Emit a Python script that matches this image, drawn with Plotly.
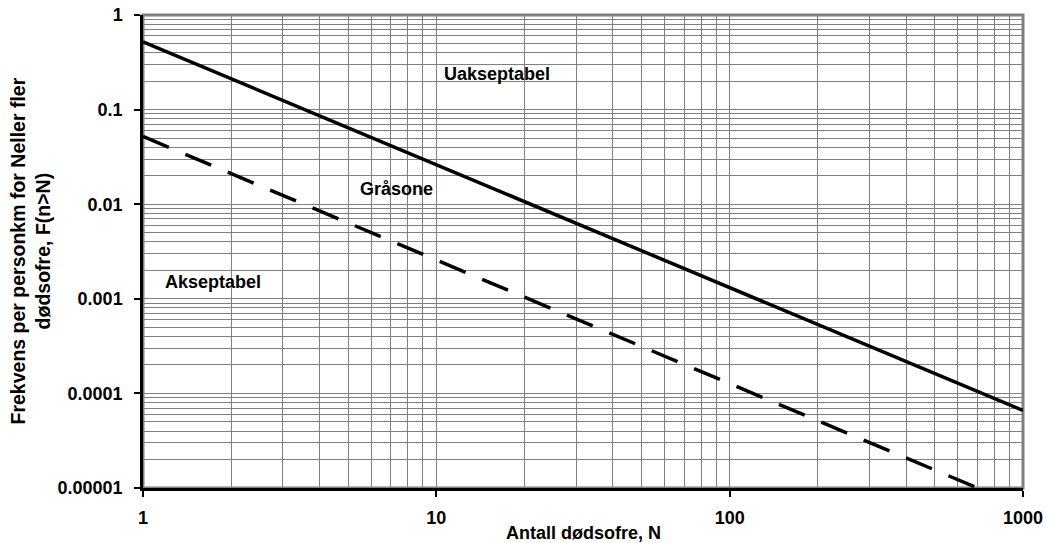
import math
import plotly.graph_objects as go

# ---- data ----
solid_x = [1, 1000]
solid_y = [0.52, 0.000066]
dashed_x = [1, 700]
dashed_y = [0.052, 0.00001]

x_tickvals = [1, 10, 100, 1000]
x_ticktext = ["1", "10", "100", "1000"]
y_tickvals = [1, 0.1, 0.01, 0.001, 0.0001, 0.00001]
y_ticktext = ["1", "0.1", "0.01", "0.001", "0.0001", "0.00001"]

region_labels = ["Uakseptabel", "Gråsone", "Akseptabel"]
region_x = [16.1, 7.3, 1.73]
region_y = [0.24, 0.0144, 0.0015]

x_title = "Antall dødsofre, N"
y_title = "Frekvens per personkm for Neller fler<br>dødsofre, F(n>N)"

# minor grid positions (2..9 in each decade)
x_minor = [m * 10 ** d for d in range(0, 3) for m in range(2, 10)]
y_minor = [m * 10 ** d for d in range(-5, 0) for m in range(2, 10)]

FONT = "Liberation Sans, Arial, sans-serif"
GRID = "#7f7f7f"

fig = go.Figure()
fig.add_trace(go.Scatter(x=solid_x, y=solid_y, mode="lines",
                         line=dict(color="black", width=3.5), showlegend=False))
fig.add_trace(go.Scatter(x=dashed_x, y=dashed_y, mode="lines",
                         line=dict(color="black", width=3.5, dash="28px,18px"),
                         showlegend=False))

# annotations on log axes take log10 coordinates
for t, xv, yv in zip(region_labels, region_x, region_y):
    fig.add_annotation(x=math.log10(xv), y=math.log10(yv), xref="x", yref="y",
                       text=t, showarrow=False,
                       font=dict(family=FONT, size=18, color="black", weight="bold"),
                       xanchor="center", yanchor="middle")

fig.add_annotation(x=0.5, y=0, xref="paper", yref="paper", text=x_title,
                   showarrow=False, yshift=-45, xanchor="center", yanchor="middle",
                   font=dict(family=FONT, size=18, color="black", weight="bold"))
fig.add_annotation(x=0, y=0.5, xref="paper", yref="paper", text=y_title,
                   showarrow=False, xshift=-113, xanchor="center", yanchor="middle",
                   textangle=-90,
                   font=dict(family=FONT, size=19.5, color="black", weight="bold"))

fig.add_shape(type="rect", xref="paper", yref="paper", x0=0, x1=1, y0=0, y1=1,
              line=dict(color=GRID, width=3), layer="between")

fig.update_xaxes(type="log", range=[0, 3], tickmode="array",
                 tickvals=x_tickvals, ticktext=x_ticktext,
                 showgrid=True, gridcolor=GRID, gridwidth=1.2,
                 ticks="outside", ticklen=6, tickwidth=2, tickcolor="black",
                 showline=True, linecolor="black", linewidth=2.5,
                 ticklabelstandoff=6, zeroline=False,
                 tickfont=dict(family=FONT, size=18, color="black", weight="bold"),
                 minor=dict(tickmode="array", tickvals=x_minor, showgrid=True,
                            gridcolor=GRID, gridwidth=1.2, ticks=""))
fig.update_yaxes(type="log", range=[-5, 0], tickmode="array",
                 tickvals=y_tickvals, ticktext=y_ticktext,
                 showgrid=True, gridcolor=GRID, gridwidth=1.2,
                 ticks="outside", ticklen=6, tickwidth=2, tickcolor="black",
                 showline=True, linecolor="black", linewidth=2.5,
                 ticklabelstandoff=8, zeroline=False,
                 tickfont=dict(family=FONT, size=18, color="black", weight="bold"),
                 minor=dict(tickmode="array", tickvals=y_minor, showgrid=True,
                            gridcolor=GRID, gridwidth=1.2, ticks=""))

fig.update_layout(width=1047, height=543,
                  margin=dict(l=143, r=24, t=15, b=55, autoexpand=False),
                  paper_bgcolor="white", plot_bgcolor="white",
                  font=dict(family=FONT, size=18, color="black"))

fig.write_html("out.html", config={"displayModeBar": False},
               post_script="document.body.style.margin='0';"
                           "document.body.style.overflow='hidden';")
